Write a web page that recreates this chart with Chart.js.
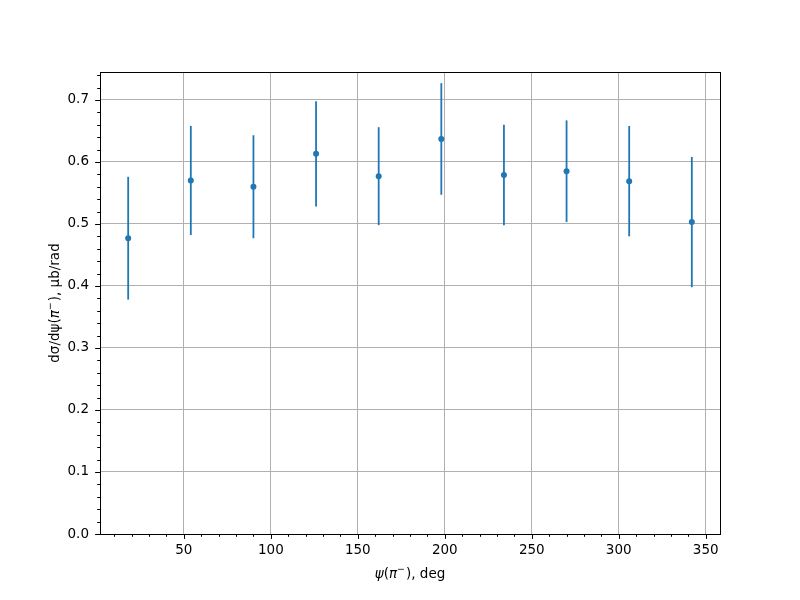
<!DOCTYPE html>
<html>
<head>
<meta charset="utf-8">
<script src="https://cdn.jsdelivr.net/npm/chart.js@4/dist/chart.umd.min.js"></script>
<style>
  html, body { margin: 0; padding: 0; background: #fff; }
  #wrap { width: 800px; height: 600px; }
</style>
</head>
<body>
<div id="wrap"><canvas id="canvas" width="800" height="600"></canvas></div>
<script>
// psi(pi-) bin centres, deg
const psi = [18, 54, 90, 126, 162, 198, 234, 270, 306, 342];
// dsigma/dpsi, mub/rad
const dsdpsi = [0.477, 0.570, 0.560, 0.613, 0.577, 0.637, 0.579, 0.585, 0.569, 0.503];
const errors = [0.099, 0.088, 0.083, 0.085, 0.079, 0.090, 0.081, 0.082, 0.089, 0.105];

// axis titles, split into pieces: [text, style]
const xLabel = [["ψ", "i"], ["(", ""], ["π", "i"], ["−", "sup"], [")", ""], [", deg", ""]];
const yLabel = [["dσ/dψ(", ""], ["π", "i"], ["−", "sup"], [")", ""], [", μb/rad", ""]];

const blue = "#1f77b4";
const font = "DejaVu Sans";
const fs = 13.5;

const xMajor = (v) => Math.abs(v % 50) < 1e-9;
const yMajor = (v) => Math.abs(Math.round(v * 10) - v * 10) < 1e-6;

function pieceFont(style) {
    if (style === "i") return "oblique " + fs + "px '" + font + "'";
    if (style === "sup") return (fs * 0.7) + "px '" + font + "'";
    return fs + "px '" + font + "'";
}

function drawRich(ctx, pieces, cx, cy) {
    ctx.textBaseline = "alphabetic";
    ctx.textAlign = "left";
    let w = 0;
    pieces.forEach(([t, s]) => { ctx.font = pieceFont(s); w += ctx.measureText(t).width + (s === "sup" ? 1 : 0); });
    let x = cx - w / 2;
    const base = cy + fs * 0.36;
    pieces.forEach(([t, s]) => {
        ctx.font = pieceFont(s);
        ctx.fillText(t, x, s === "sup" ? base - fs * 0.45 : base);
        x += ctx.measureText(t).width + (s === "sup" ? 1 : 0);
    });
}

// error bars, tick marks, frame and axis titles
const extras = {
    id: "extras",
    beforeDatasetsDraw(chart) {
        const { ctx, scales: { x, y } } = chart;
        ctx.save();
        ctx.strokeStyle = blue;
        ctx.lineWidth = 1.8;
        psi.forEach((p, i) => {
            const px = x.getPixelForValue(p);
            ctx.beginPath();
            ctx.moveTo(px, y.getPixelForValue(dsdpsi[i] - errors[i]));
            ctx.lineTo(px, y.getPixelForValue(dsdpsi[i] + errors[i]));
            ctx.stroke();
        });
        ctx.restore();
    },
    afterDraw(chart) {
        const { ctx, chartArea: a, scales: { x, y } } = chart;
        ctx.save();
        ctx.strokeStyle = "#000";
        ctx.lineWidth = 1;
        x.ticks.forEach((t) => {
            const px = Math.round(x.getPixelForValue(t.value)) + 0.5;
            const len = xMajor(t.value) ? 4.9 : 2.8;
            ctx.beginPath();
            ctx.moveTo(px, a.bottom);
            ctx.lineTo(px, a.bottom + len);
            ctx.stroke();
        });
        y.ticks.forEach((t) => {
            const py = Math.round(y.getPixelForValue(t.value)) + 0.5;
            const len = yMajor(t.value) ? 4.9 : 2.8;
            ctx.beginPath();
            ctx.moveTo(a.left, py);
            ctx.lineTo(a.left - len, py);
            ctx.stroke();
        });
        ctx.strokeRect(Math.round(a.left) + 0.5, Math.round(a.top) + 0.5,
            Math.round(a.right - a.left), Math.round(a.bottom - a.top));

        ctx.fillStyle = "#000";
        drawRich(ctx, xLabel, (a.left + a.right) / 2, 573);
        ctx.translate(54, (a.top + a.bottom) / 2);
        ctx.rotate(-Math.PI / 2);
        drawRich(ctx, yLabel, 0, 0);
        ctx.restore();
    }
};

const canvas = document.getElementById("canvas");

new Chart(canvas, {
    type: "scatter",
    data: {
        datasets: [{
            data: psi.map((p, i) => ({ x: p, y: dsdpsi[i] })),
            backgroundColor: blue,
            borderColor: blue,
            pointRadius: 3,
            borderWidth: 0
        }]
    },
    options: {
        responsive: false,
        animation: false,
        devicePixelRatio: 1,
        layout: { padding: { top: 72, right: 80, left: 0, bottom: 0 } },
        plugins: { legend: { display: false }, tooltip: { enabled: false } },
        scales: {
            x: {
                type: "linear",
                min: 1.8,
                max: 358.2,
                afterFit: (s) => { s.height = 66; },
                afterBuildTicks: (s) => {
                    const t = [];
                    for (let v = 10; v <= 350; v += 10) t.push({ value: v });
                    s.ticks = t;
                },
                border: { display: false },
                grid: {
                    drawTicks: false,
                    lineWidth: 1,
                    color: (c) => (c.tick && xMajor(c.tick.value)) ? "#b0b0b0" : "rgba(0,0,0,0)"
                },
                ticks: {
                    autoSkip: false,
                    maxRotation: 0,
                    padding: 8,
                    color: "#000",
                    font: { family: font, size: fs },
                    callback: (v) => xMajor(v) ? String(v) : ""
                }
            },
            y: {
                type: "linear",
                min: 0,
                max: 0.745,
                afterFit: (s) => { s.width = 100; },
                afterBuildTicks: (s) => {
                    const t = [];
                    for (let i = 0; i <= 37; i++) t.push({ value: i / 50 });
                    s.ticks = t;
                },
                border: { display: false },
                grid: {
                    drawTicks: false,
                    lineWidth: 1,
                    color: (c) => (c.tick && yMajor(c.tick.value)) ? "#b0b0b0" : "rgba(0,0,0,0)"
                },
                ticks: {
                    autoSkip: false,
                    padding: 11,
                    color: "#000",
                    font: { family: font, size: fs },
                    callback: (v) => yMajor(v) ? v.toFixed(1) : ""
                }
            }
        }
    },
    plugins: [extras]
});
</script>
</body>
</html>
